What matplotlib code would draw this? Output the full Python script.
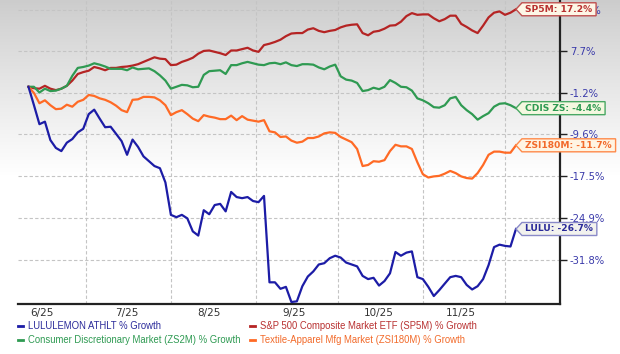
import numpy as np
import pandas as pd
import matplotlib
matplotlib.use('Agg')
import matplotlib.pyplot as plt
import matplotlib.dates as mdates
from matplotlib.patches import Polygon
from matplotlib.lines import Line2D
from matplotlib.transforms import IdentityTransform

# ---------------- data (% growth, sampled every 2 calendar days) ----------------
dates = pd.date_range('2025-06-10', periods=90, freq='2D')

lulu = [0.0, -3.8, -7.6, -7.1, -10.7, -12.2, -12.8, -11.2, -10.5, -9.2,
        -8.5, -5.6, -4.7, -6.5, -8.2, -8.1, -9.5, -10.9, -13.5, -10.6,
        -12.0, -13.8, -14.7, -15.6, -16.0, -18.6, -24.3, -24.7, -24.3, -24.9,
        -27.1, -27.8, -23.5, -24.2, -22.6, -22.4, -23.7, -20.3, -21.2, -21.4,
        -21.2, -21.9, -22.1, -21.0, -35.3, -35.3, -36.3, -36.0, -38.3, -38.2,
        -35.9, -34.4, -33.6, -32.5, -32.3, -31.5, -31.1, -31.4, -32.2, -32.5,
        -32.8, -34.3, -34.8, -34.6, -35.8, -35.1, -33.9, -30.5, -31.1, -30.6,
        -30.4, -34.5, -34.8, -36.0, -37.4, -36.5, -35.5, -34.5, -34.3, -34.5,
        -35.7, -36.4, -35.9, -34.8, -32.6, -29.7, -29.3, -29.5, -29.6, -26.7]

sp5m = [0.0, -0.3, -0.4, 0.2, -0.4, -0.7, -0.4, 0.2, 1.3, 2.7,
        3.1, 3.4, 4.2, 3.9, 3.5, 4.0, 4.0, 4.2, 4.3, 4.5,
        4.8, 5.3, 5.8, 6.3, 6.0, 5.9, 4.6, 4.7, 5.3, 5.7,
        6.2, 7.1, 7.7, 7.8, 7.5, 7.2, 6.8, 7.8, 7.8, 8.1,
        8.4, 7.8, 7.5, 9.0, 9.3, 9.7, 10.2, 11.0, 11.6, 11.7,
        11.7, 12.5, 12.8, 12.2, 11.9, 12.2, 12.4, 13.0, 13.4, 13.6,
        13.7, 11.7, 11.2, 12.0, 12.2, 12.7, 13.4, 13.5, 14.3, 15.6,
        16.3, 15.9, 16.0, 16.0, 15.1, 14.4, 14.9, 15.7, 15.7, 13.8,
        13.1, 12.3, 11.7, 13.4, 15.3, 16.4, 16.7, 15.9, 16.4, 17.2]

cdis = [0.0, 0.0, -1.2, -0.4, -0.9, -0.8, -0.4, 0.2, 2.3, 4.0,
        4.2, 4.5, 5.0, 4.7, 4.3, 3.8, 3.8, 3.8, 3.5, 4.1,
        3.7, 3.8, 3.9, 3.3, 2.4, 1.3, -0.4, 0.0, 0.4, 0.3,
        -0.1, 0.0, 2.5, 3.3, 3.4, 3.5, 2.7, 4.6, 4.6, 5.0,
        5.3, 5.0, 4.7, 4.6, 5.0, 5.1, 4.8, 5.2, 4.6, 4.4,
        4.8, 4.8, 4.7, 4.1, 3.7, 4.3, 4.7, 2.2, 1.5, 1.3,
        0.8, -0.9, -0.7, -0.2, -0.5, 0.0, 1.4, 0.8, 0.0, -0.1,
        -0.8, -2.4, -2.8, -3.4, -4.2, -4.3, -3.8, -2.4, -2.1, -3.8,
        -4.8, -5.6, -6.7, -6.0, -5.4, -4.1, -3.5, -3.4, -3.8, -4.4]

zsi = [0.0, -1.3, -3.4, -2.8, -3.8, -4.6, -4.5, -3.7, -4.1, -3.1,
       -2.7, -1.7, -1.9, -2.4, -2.7, -3.2, -3.9, -4.8, -5.2, -2.7,
       -2.6, -2.1, -2.1, -2.2, -2.8, -3.8, -5.8, -5.2, -4.8, -5.6,
       -6.5, -7.0, -5.8, -6.1, -6.3, -6.6, -6.6, -5.9, -6.8, -6.0,
       -6.7, -6.9, -7.1, -6.8, -9.0, -9.2, -10.1, -10.0, -10.8, -11.2,
       -11.0, -10.3, -10.3, -10.0, -9.4, -9.2, -9.3, -10.1, -10.6, -11.1,
       -12.4, -15.6, -15.4, -14.7, -14.8, -14.5, -12.8, -11.6, -11.9, -11.9,
       -12.4, -14.9, -17.1, -17.7, -17.5, -17.4, -17.0, -16.5, -16.9, -17.5,
       -17.8, -17.9, -16.9, -15.4, -13.5, -12.9, -12.9, -13.1, -13.1, -11.7]

ytick_vals = [17.1, 7.7, -1.2, -9.6, -17.5, -24.9, -31.8]
xtick_labels = ['6/25', '7/25', '8/25', '9/25', '10/25', '11/25']
xtick_label_dates = ['2025-06-15', '2025-07-16', '2025-08-15', '2025-09-15', '2025-10-16', '2025-11-15']
month_starts = ['2025-07-01', '2025-08-01', '2025-09-01', '2025-10-01', '2025-11-01', '2025-12-01']

legend_labels = ['LULULEMON ATHLT % Growth',
                 'S&P 500 Composite Market ETF (SP5M) % Growth',
                 'Consumer Discretionary Market (ZS2M) % Growth',
                 'Textile-Apparel Mfg Market (ZSI180M) % Growth']
tag_names = ['LULU', 'SP5M', 'CDIS ZS', 'ZSI180M']

# ---------------- styling ----------------
C_LULU = '#1c1ca6'
C_SP5M = '#b52424'
C_CDIS = '#2f9a52'
C_ZSI = '#ff6a25'
TXT_COL = ['#2a2a9a', '#b83030', '#2e9a52', '#f26a2a']
LINE_COL = [C_LULU, C_SP5M, C_CDIS, C_ZSI]

W, H = 620, 354
fig = plt.figure(figsize=(W / 100, H / 100), dpi=100)
fig.patch.set_facecolor('white')

# background gradient
bg = fig.add_axes([0, 0, 1, 1], zorder=-10)
ypx = np.arange(H)
g = 0.80 + 0.20 * np.clip(ypx / 175.0, 0, 1) ** 0.9
img = np.repeat(g[:, None], 3, axis=1)[:, None, :]
bg.imshow(img, aspect='auto', extent=[0, 1, 0, 1], interpolation='bilinear')
bg.set_axis_off()

left, right, top, bottom = 18, 560, 0, 304
ax = fig.add_axes([left / W, 1 - bottom / H, (right - left) / W, (bottom - top) / H])
ax.set_facecolor('none')

K = 136.0
ax.set_yscale('function', functions=(lambda v: np.log(np.asarray(v) + K),
                                     lambda t: np.exp(np.asarray(t)) - K))

dn = mdates.date2num(dates)
series = [lulu, sp5m, cdis, zsi]
order = [1, 2, 3, 0]
for i in order:
    ax.plot(dn, series[i], color=LINE_COL[i], lw=1.6, zorder=3 + (i == 0),
            solid_joinstyle='round')

x0 = mdates.date2num(pd.Timestamp('2025-07-01')) - 68 / 2.739
x1 = mdates.date2num(pd.Timestamp('2025-12-01')) + 55 / 2.739
ax.set_xlim(x0, x1)
ax.set_ylim(-38.6, 19.4)

# grid
for d in month_starts:
    ax.axvline(mdates.date2num(pd.Timestamp(d)), color='#c4c4c4', lw=0.8,
               ls=(0, (3, 2)), zorder=1)
for v in ytick_vals:
    ax.axhline(v, color='#c4c4c4', lw=0.8, ls=(0, (3, 2)), zorder=1)

ax.set_xticks([mdates.date2num(pd.Timestamp(d)) for d in xtick_label_dates])
ax.set_xticklabels(xtick_labels, fontsize=7.5, color='#333333', family='DejaVu Sans')
ax.tick_params(axis='x', length=0, pad=3)

ax.yaxis.tick_right()
ax.set_yticks(ytick_vals)
ax.set_yticklabels([f'{v}%' for v in ytick_vals], fontsize=7.2, color='#3a3aaa',
                   family='DejaVu Sans')
ax.tick_params(axis='y', length=5, width=1, color='#222222', pad=2)
ax.yaxis.set_minor_locator(matplotlib.ticker.NullLocator())

for s in ['left', 'top']:
    ax.spines[s].set_visible(False)
for s in ['bottom', 'right']:
    ax.spines[s].set_color('#222222')
    ax.spines[s].set_linewidth(1.6)

# end-value tags
fig.canvas.draw()
renderer = fig.canvas.get_renderer()
tag_edge = ['#8a8ac8', '#c05050', '#4aa864', '#ff8a4a']
tag_fill = ['#f2f2ee', '#fdf6e6', '#f4f8e0', '#fff4e2']
for i in range(4):
    vals = series[i]
    px, py = ax.transData.transform((dn[-1], vals[-1]))
    label = f'{tag_names[i]}: {vals[-1]:.1f}%'
    t = fig.text(px + 9, py, label, transform=IdentityTransform(), fontsize=6.6,
                 fontweight='bold', color=TXT_COL[i], va='center', ha='left',
                 family='DejaVu Sans', zorder=20)
    bb = t.get_window_extent(renderer)
    h = 13
    xr = bb.x1 + 4
    poly = Polygon([(px, py), (px + 6, py + h / 2), (xr, py + h / 2),
                    (xr, py - h / 2), (px + 6, py - h / 2)], closed=True,
                   transform=IdentityTransform(), facecolor=tag_fill[i],
                   edgecolor=tag_edge[i], lw=1.0, zorder=15)
    fig.add_artist(poly)

# legend
rows = [(326, 0, 18), (326, 1, 250), (340, 2, 18), (340, 3, 250)]
for ypos, i, xs in rows:
    yf = 1 - ypos / H
    fig.add_artist(Line2D([xs / W, (xs + 5) / W], [yf, yf], color=LINE_COL[i], lw=2,
                          transform=fig.transFigure))
    fig.text((xs + 10) / W, yf, legend_labels[i], fontsize=6.85, color=TXT_COL[i],
             va='center', ha='left', family='Liberation Sans')

fig.savefig('out.png', dpi=100)
